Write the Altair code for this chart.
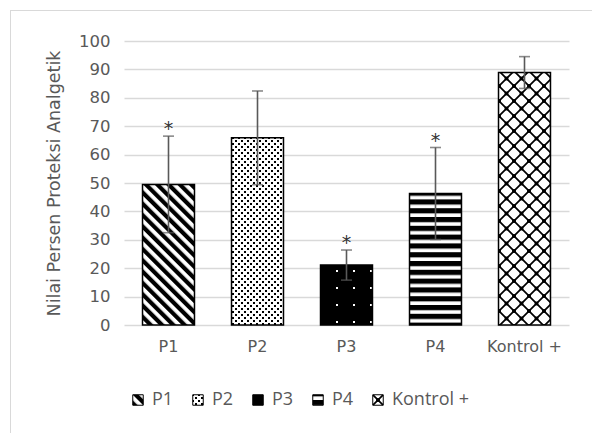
import altair as alt
import pandas as pd
import jinja2

# ---- data ----
categories = ["P1", "P2", "P3", "P4", "Kontrol +"]
means = [49.5, 65.9, 21.1, 46.3, 88.9]
sds = [17.0, 16.5, 5.3, 16.2, 5.6]
signif = ["*", "", "*", "*", ""]
y_ticks = [0, 10, 20, 30, 40, 50, 60, 70, 80, 90, 100]
pattern_ids = ["url(#pat-p1)", "url(#pat-p2)", "url(#pat-p3)", "url(#pat-p4)", "url(#pat-k)"]

df = pd.DataFrame({"kel": categories, "mean": means, "sd": sds, "sig": signif})
df["lo"] = df["mean"] - df["sd"]
df["hi"] = df["mean"] + df["sd"]

GRAY = "#595959"
FONT = "DejaVu Sans"
YTITLE = "Nilai Persen Proteksi Analgetik"

x_enc = alt.X(
    "kel:N",
    sort=categories,
    title=None,
    scale=alt.Scale(paddingInner=0.416, paddingOuter=0.208),
    axis=alt.Axis(labelAngle=0, labelPadding=13),
)
y_scale = alt.Scale(domain=[0, 100], nice=False)
y_axis = alt.Axis(values=y_ticks, labelOverlap=False, labelPadding=14, titlePadding=15)


def yenc(field):
    return alt.Y(field, type="quantitative", title=YTITLE, scale=y_scale, axis=y_axis)


base = alt.Chart(df)

bars = base.mark_bar(stroke="black", strokeWidth=1.5).encode(
    x=x_enc,
    y=yenc("mean"),
    fill=alt.Fill(
        "kel:N",
        sort=categories,
        scale=alt.Scale(domain=categories, range=pattern_ids),
        legend=alt.Legend(
            title=None, orient="none", direction="horizontal",
            legendX=5, legendY=350,
            symbolType="square", symbolSize=110, symbolStrokeColor="black",
            symbolStrokeWidth=1, labelFont="Open Sans", labelFontSize=18,
            labelColor=GRAY, labelOffset=5, columnPadding=15,
        ),
    ),
)

err = base.mark_rule(color=GRAY, strokeWidth=1.6).encode(
    x=x_enc, y=yenc("lo"), y2="hi:Q"
)
cap_hi = base.mark_tick(color=GRAY, size=11, thickness=1.6).encode(
    x=x_enc, y=yenc("hi")
)
cap_lo = base.mark_tick(color=GRAY, size=11, thickness=1.6).encode(
    x=x_enc, y=yenc("lo")
)
stars = base.mark_text(font=FONT, fontSize=19, color="#333333", baseline="alphabetic", dy=-1).encode(
    x=x_enc, y=yenc("hi"), text="sig:N"
)

chart = (
    alt.layer(bars, err, cap_hi, cap_lo, stars)
    .properties(
        width=445,
        height=284,
        autosize=alt.AutoSizeParams(type="none"),
        padding={"left": 116, "top": 33, "right": 15, "bottom": 100},
        background="white",
    )
    .configure_view(stroke=None)
    .configure_axis(
        domain=False, ticks=False,
        labelFont=FONT, labelFontSize=16.5, labelColor=GRAY,
        titleFont=FONT, titleFontSize=17.5, titleFontWeight="normal", titleColor=GRAY,
    )
    .configure_axisY(gridColor="#d9d9d9", gridWidth=1.5)
    .configure_axisX(grid=False, labelFontSize=16)
)

TEMPLATE = jinja2.Template("""<!DOCTYPE html>
<html>
<head>
<meta charset="utf-8">
<style>
  body { margin: 8px; background: white; }
  #chartframe { position: fixed; left: 10px; top: 10px; right: -20px; bottom: -20px;
                border: 1.5px solid #d9d9d9; pointer-events: none; z-index: 10; }
</style>
<script type="text/javascript" src="{{ base_url }}/vega@{{ vega_version }}"></script>
<script type="text/javascript" src="{{ base_url }}/vega-lite@{{ vegalite_version }}"></script>
<script type="text/javascript" src="{{ base_url }}/vega-embed@{{ vegaembed_version }}"></script>
</head>
<body>
<div id="chartframe"></div>
<svg width="0" height="0" style="position:absolute">
  <defs>
    <pattern id="pat-p1" patternUnits="userSpaceOnUse" width="8" height="8" patternTransform="rotate(-45)">
      <rect width="8" height="8" fill="white"/>
      <rect width="4.2" height="8" fill="black"/>
    </pattern>
    <pattern id="pat-p2" patternUnits="userSpaceOnUse" width="6" height="6">
      <rect width="6" height="6" fill="white"/>
      <rect x="0" y="0" width="2" height="2" fill="black"/>
      <rect x="3" y="3" width="2" height="2" fill="black"/>
    </pattern>
    <pattern id="pat-p3" patternUnits="userSpaceOnUse" width="17" height="17">
      <rect width="17" height="17" fill="black"/>
      <rect x="8" y="8" width="2" height="2" fill="white"/>
    </pattern>
    <pattern id="pat-p4" patternUnits="userSpaceOnUse" width="8.8" height="8.8">
      <rect width="8.8" height="8.8" fill="white"/>
      <rect width="8.8" height="5.2" fill="black"/>
    </pattern>
    <pattern id="pat-k" patternUnits="userSpaceOnUse" width="15" height="15">
      <rect width="15" height="15" fill="white"/>
      <path d="M0,0L15,15M15,0L0,15" stroke="black" stroke-width="1.7"/>
      <rect x="-1.9" y="-1.9" width="3.8" height="3.8" fill="black"/>
      <rect x="13.1" y="-1.9" width="3.8" height="3.8" fill="black"/>
      <rect x="-1.9" y="13.1" width="3.8" height="3.8" fill="black"/>
      <rect x="13.1" y="13.1" width="3.8" height="3.8" fill="black"/>
      <rect x="5.6" y="5.6" width="3.8" height="3.8" fill="black"/>
    </pattern>
  </defs>
</svg>
<div id="{{ output_div }}"></div>
<script type="text/javascript">
  (function(vegaEmbed) {
    var spec = {{ spec }};
    var embedOpt = {{ embed_options }};
    vegaEmbed("#{{ output_div }}", spec, embedOpt).catch(function(err) {
      document.getElementById("{{ output_div }}").innerHTML = '<pre>' + err + '</pre>';
    });
  })(vegaEmbed);
</script>
</body>
</html>
""")

chart.save("out.html", embed_options={"renderer": "svg", "actions": False}, template=TEMPLATE)
